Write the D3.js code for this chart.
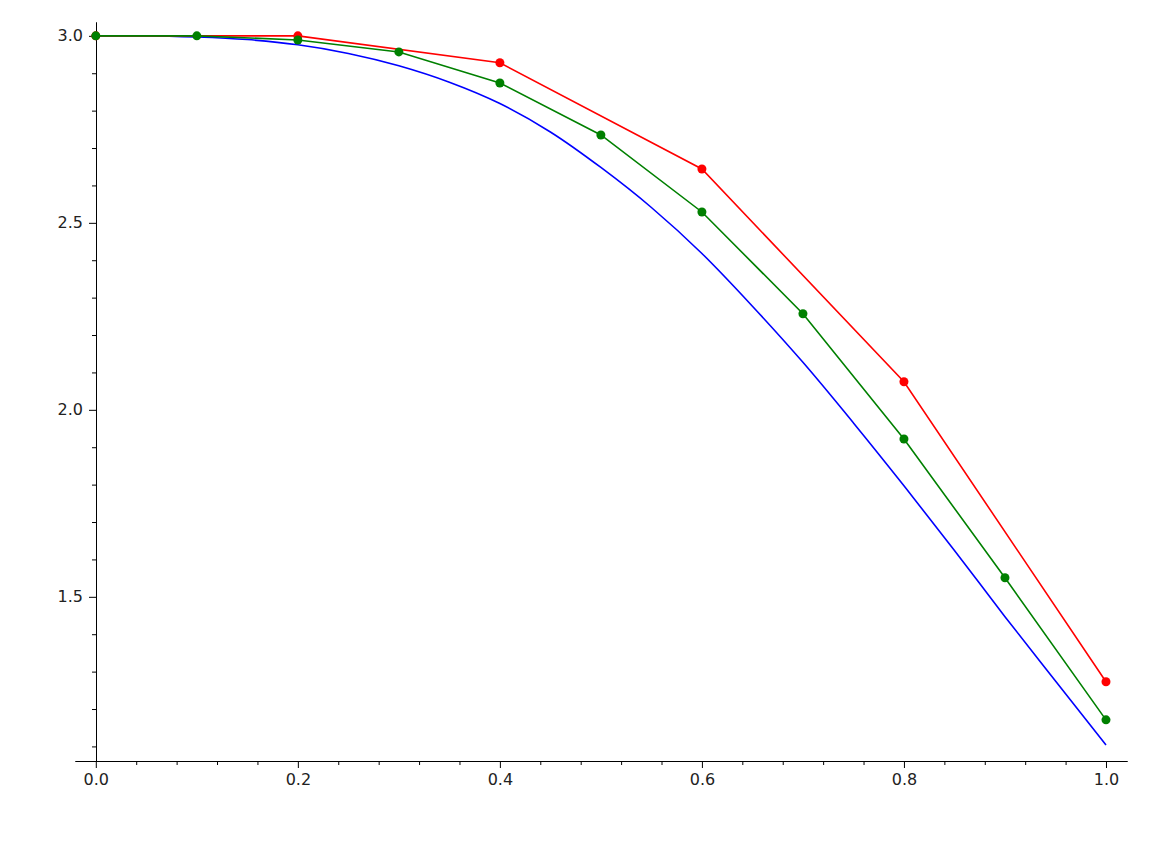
<!DOCTYPE html>
<html><head><meta charset="utf-8">
<script src="https://cdn.jsdelivr.net/npm/d3@7"></script>
<style>body{margin:0;background:#fff}</style>
</head><body><div id="chart"></div>
<script>
// data
var redX = [0, 0.2, 0.4, 0.6, 0.8, 1.0];
var redY = [3.0, 3.0, 2.928, 2.644, 2.075, 1.273];
var greenX = [0, 0.1, 0.2, 0.3, 0.4, 0.5, 0.6, 0.7, 0.8, 0.9, 1.0];
var greenY = [3.0, 3.0, 2.989, 2.957, 2.874, 2.735, 2.529, 2.257, 1.922, 1.551, 1.171];
var blueX = [0, 0.05, 0.1, 0.15, 0.2, 0.25, 0.3, 0.35, 0.4, 0.45, 0.5, 0.55, 0.6, 0.65, 0.7, 0.75, 0.8, 0.85, 0.9, 0.95, 1.0];
var blueY = [3.0, 3.0, 2.997, 2.99, 2.976, 2.953, 2.920, 2.876, 2.819, 2.743, 2.648, 2.541, 2.418, 2.277, 2.127, 1.965, 1.797, 1.624, 1.447, 1.275, 1.104];
var xTicks = [0, 0.2, 0.4, 0.6, 0.8, 1.0];
var yTicks = [1.5, 2.0, 2.5, 3.0];

var svg = d3.select("#chart").append("svg").attr("width", 1165).attr("height", 858);

var x = d3.scaleLinear().domain([-0.0206, 1.0208]).range([75, 1127]);
var y = d3.scaleLinear().domain([1.061, 3.037]).range([761, 22]);

var xMinor = d3.range(0, 1.0001, 0.04).filter(v => xTicks.every(t => Math.abs(t - v) > 1e-6));
var yMinor = d3.range(1.1, 3.0001, 0.1).filter(v => yTicks.every(t => Math.abs(t - v) > 1e-6));

var gx = svg.append("g").attr("transform", "translate(0,761)");
gx.call(d3.axisBottom(x).tickValues(xTicks).tickFormat(d3.format(".1f")).tickSize(7).tickSizeOuter(0).tickPadding(6));
gx.append("g").call(d3.axisBottom(x).tickValues(xMinor).tickFormat("").tickSize(4).tickSizeOuter(0));
var gy = svg.append("g").attr("transform", "translate(96,0)");
gy.call(d3.axisLeft(y).tickValues(yTicks).tickFormat(d3.format(".1f")).tickSize(7).tickSizeOuter(0).tickPadding(6));
gy.append("g").call(d3.axisLeft(y).tickValues(yMinor).tickFormat("").tickSize(4).tickSizeOuter(0));
svg.selectAll(".domain").attr("stroke", "#000");
svg.selectAll(".tick line").attr("stroke", "#000");
svg.selectAll(".tick text").attr("font-family", "DejaVu Sans").attr("font-size", 16).attr("fill", "#222");

var line = d3.line().x(d => x(d[0])).y(d => y(d[1]));
function series(xs, ys, color, curve, dots) {
  var pts = xs.map((v, i) => [v, ys[i]]);
  svg.append("path").attr("d", line.curve(curve)(pts)).attr("fill", "none").attr("stroke", color).attr("stroke-width", 1.6);
  if (dots) svg.selectAll(null).data(pts).enter().append("circle")
    .attr("cx", d => x(d[0])).attr("cy", d => y(d[1])).attr("r", 4.5).attr("fill", color);
}
series(blueX, blueY, "#0000ff", d3.curveMonotoneX, false);
series(redX, redY, "#ff0000", d3.curveLinear, true);
series(greenX, greenY, "#008000", d3.curveLinear, true);
</script></body></html>
